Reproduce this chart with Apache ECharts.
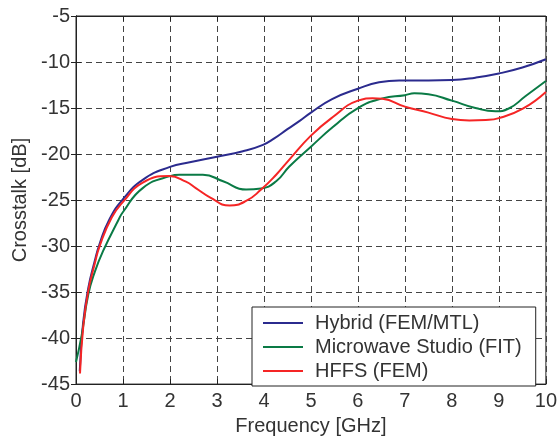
<!DOCTYPE html>
<html>
<head>
<meta charset="utf-8">
<script src="https://cdn.jsdelivr.net/npm/echarts@6/dist/echarts.min.js"></script>
<style>
  html, body { margin: 0; padding: 0; background: #fff; }
  #chart { width: 560px; height: 441px; }
</style>
</head>
<body>
<div id="chart"></div>
<script>
// values (frequency in GHz, crosstalk in dB)
const hybridFreq = [0.08, 0.15, 0.26, 0.4, 0.5, 0.71, 1.0, 1.42, 2.0, 2.42, 3.0, 3.55, 3.98, 4.22, 4.5, 4.76, 5.0, 5.46, 6.0, 6.45, 6.88, 7.5, 8.0, 8.5, 9.0, 9.5, 10.0]
const hybridDb = [-43.6, -38.4, -34.6, -31.6, -29.8, -27.1, -24.9, -22.8, -21.4, -20.9, -20.3, -19.7, -19.0, -18.3, -17.3, -16.4, -15.5, -14.0, -12.9, -12.2, -12.0, -12.0, -11.96, -11.7, -11.25, -10.6, -9.7]

const mwsFreq = [0, 0.12, 0.26, 0.4, 0.58, 0.9, 1.0, 1.42, 2.0, 2.2, 2.7, 3.13, 3.62, 3.94, 4.26, 4.54, 5.0, 5.46, 6.0, 6.52, 7.0, 7.2, 7.5, 8.0, 8.5, 8.93, 9.21, 9.57, 10.0]
const mwsDb = [-42.6, -39.7, -35.3, -32.8, -30.5, -27.2, -26.3, -23.7, -22.4, -22.25, -22.25, -22.96, -23.86, -23.75, -22.96, -21.35, -19.2, -17.1, -15.0, -13.95, -13.6, -13.4, -13.5, -14.2, -15.0, -15.35, -15.05, -13.7, -12.07]

const hfssFreq = [0.085, 0.155, 0.26, 0.4, 0.51, 0.76, 1.0, 1.42, 1.98, 2.34, 2.55, 2.85, 3.27, 3.62, 3.94, 4.26, 4.54, 5.0, 5.46, 6.0, 6.31, 6.52, 7.0, 7.5, 8.0, 8.37, 8.72, 9.0, 9.5, 10.0]
const hfssDb = [-43.85, -38.7, -34.9, -31.9, -29.9, -26.9, -25.2, -23.1, -22.4, -23.0, -23.7, -24.7, -25.6, -25.1, -23.86, -22.25, -20.6, -18.0, -16.0, -14.2, -13.95, -14.0, -14.85, -15.5, -16.2, -16.35, -16.3, -16.1, -15.1, -13.25]

const seriesNames = ['Hybrid (FEM/MTL)', 'Microwave Studio (FIT)', 'HFFS (FEM)']
const colors = ['#2b2b8e', '#0a7a45', '#f52525']

const pairs = (xs, ys) => xs.map((x, i) => [x, ys[i]])

const font = 'Liberation Sans, Arial, sans-serif'

const makeSeries = (name, data, color) => ({
  name,
  type: 'line',
  data,
  smooth: 0.5,
  showSymbol: false,
  symbol: 'none',
  lineStyle: { width: 2, color },
  itemStyle: { color }
})

const chart = echarts.init(document.getElementById('chart'))

const splitLine = {
  show: true,
  lineStyle: { color: '#444', type: [6, 4], width: 1 }
}

chart.setOption({
  animation: false,
  grid: {
    left: 76,
    right: 12,
    top: 16,
    bottom: 52,
    show: true,
    borderColor: '#222',
    borderWidth: 1
  },
  legend: {
    orient: 'vertical',
    left: 252,
    top: 307,
    data: seriesNames,
    icon: 'rect',
    itemWidth: 40,
    itemHeight: 2,
    itemGap: 0,
    padding: [4, 14, 3, 11],
    backgroundColor: '#fff',
    borderColor: '#222',
    borderWidth: 1,
    borderRadius: 0,
    textStyle: { fontFamily: font, fontSize: 20, color: '#333', padding: [0, 0, 0, 7], lineHeight: 24 }
  },
  xAxis: [{
    type: 'value',
    min: 0,
    max: 10,
    interval: 1,
    name: 'Frequency [GHz]',
    nameLocation: 'middle',
    nameGap: 31,
    nameTextStyle: { fontFamily: font, fontSize: 20, color: '#333' },
    axisLine: { show: true, lineStyle: { color: '#222' } },
    axisTick: { show: true, inside: true, length: 5, lineStyle: { color: '#222' } },
    axisLabel: { fontFamily: font, fontSize: 20, color: '#333', margin: 7 },
    splitLine
  }, {
    type: 'value',
    position: 'top',
    min: 0,
    max: 10,
    interval: 1,
    axisLine: { show: true, lineStyle: { color: '#222' } },
    axisTick: { show: true, inside: true, length: 5, lineStyle: { color: '#222' } },
    axisLabel: { show: false },
    splitLine: { show: false }
  }],
  yAxis: [{
    type: 'value',
    min: -45,
    max: -5,
    interval: 5,
    name: 'Crosstalk [dB]',
    nameLocation: 'middle',
    nameGap: 44,
    nameTextStyle: { fontFamily: font, fontSize: 20, color: '#333' },
    axisLine: { show: true, lineStyle: { color: '#222' } },
    axisTick: { show: true, inside: true, length: 5, lineStyle: { color: '#222' } },
    axisLabel: { fontFamily: font, fontSize: 20, color: '#333', margin: 6 },
    splitLine
  }, {
    type: 'value',
    position: 'right',
    min: -45,
    max: -5,
    interval: 5,
    axisLine: { show: true, lineStyle: { color: '#222' } },
    axisTick: { show: true, inside: true, length: 5, lineStyle: { color: '#222' } },
    axisLabel: { show: false },
    splitLine: { show: false }
  }],
  series: [
    makeSeries(seriesNames[0], pairs(hybridFreq, hybridDb), colors[0]),
    makeSeries(seriesNames[1], pairs(mwsFreq, mwsDb), colors[1]),
    makeSeries(seriesNames[2], pairs(hfssFreq, hfssDb), colors[2])
  ]
})
</script>
</body>
</html>
